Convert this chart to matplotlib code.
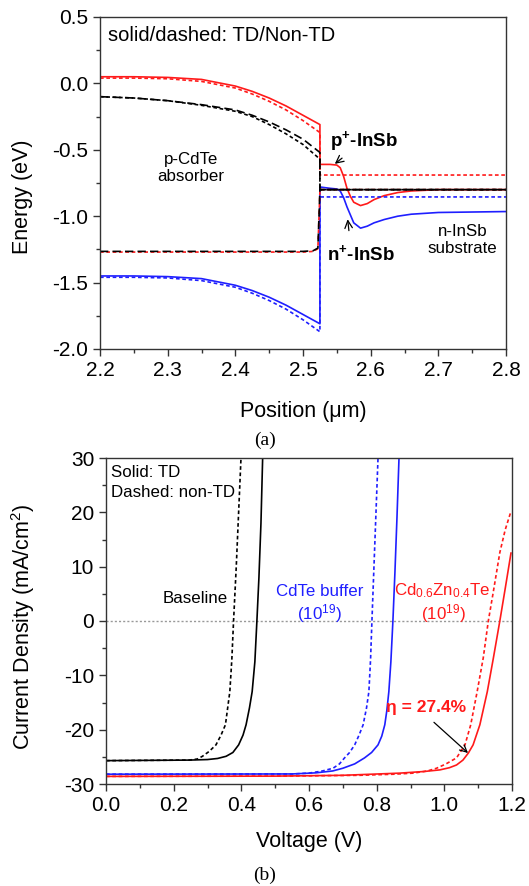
import matplotlib
matplotlib.use("Agg")
import matplotlib.pyplot as plt
from matplotlib.ticker import MultipleLocator

plt.rcParams['font.family'] = ['Liberation Sans', 'DejaVu Sans']
plt.rcParams['mathtext.fontset'] = 'custom'
plt.rcParams['mathtext.rm'] = 'Liberation Sans'
plt.rcParams['mathtext.it'] = 'Liberation Sans:italic'
plt.rcParams['mathtext.bf'] = 'Liberation Sans:bold'
plt.rcParams['axes.unicode_minus'] = False

# ---- (a) band diagram data ----
pos_cdte = [2.2, 2.25, 2.3, 2.35, 2.4, 2.425, 2.45, 2.475, 2.5, 2.525]
ec_td_cdte = [0.05, 0.05, 0.045, 0.03, -0.02, -0.06, -0.11, -0.17, -0.24, -0.31]
ec_ntd_cdte = [0.04, 0.04, 0.035, 0.015, -0.035, -0.08, -0.135, -0.20, -0.28, -0.37]
ev_td_cdte = [-1.45, -1.45, -1.455, -1.47, -1.52, -1.56, -1.61, -1.67, -1.74, -1.81]
ev_ntd_cdte = [-1.46, -1.46, -1.465, -1.485, -1.535, -1.58, -1.635, -1.70, -1.78, -1.87]
efn_td_cdte = [-0.10, -0.11, -0.13, -0.16, -0.20, -0.24, -0.29, -0.35, -0.42, -0.52]
efn_ntd_cdte = [-0.10, -0.11, -0.13, -0.165, -0.21, -0.25, -0.31, -0.38, -0.46, -0.57]
pos_efp = [2.2, 2.5, 2.515, 2.522, 2.525]
efp_td_cdte = [-1.265, -1.265, -1.26, -1.24, -0.80]
efp_ntd_cdte = [-1.27, -1.27, -1.265, -1.245, -0.81]

pos_insb = [2.525, 2.54, 2.55, 2.555, 2.56, 2.565, 2.57, 2.575, 2.585, 2.595,
            2.605, 2.62, 2.64, 2.66, 2.7, 2.8]
ec_td_insb = [-0.61, -0.61, -0.615, -0.635, -0.70, -0.79, -0.85, -0.895, -0.92, -0.905,
              -0.875, -0.845, -0.822, -0.81, -0.80, -0.80]
ev_td_insb = [-0.78, -0.79, -0.795, -0.81, -0.86, -0.93, -0.99, -1.05, -1.09, -1.075,
              -1.05, -1.025, -1.0, -0.985, -0.972, -0.965]
pos_flat = [2.525, 2.8]
ec_ntd_insb = [-0.69, -0.69]
ev_ntd_insb = [-0.855, -0.855]
ef_insb = [-0.80, -0.80]

# ---- (b) J-V data ----
base_td_v = [0, 0.246, 0.30, 0.33, 0.355, 0.375, 0.392, 0.405, 0.414, 0.424, 0.432, 0.440, 0.446, 0.452, 0.458, 0.463]
base_td_j = [-25.7, -25.6, -25.5, -25.3, -24.9, -24.2, -22.8, -21.0, -19.1, -16.0, -13.0, -7.5, 0, 8, 18, 30]
base_ntd_v = [0, 0.246, 0.27, 0.285, 0.305, 0.325, 0.340, 0.353, 0.366, 0.372, 0.377, 0.385, 0.392, 0.399]
base_ntd_j = [-25.7, -25.6, -25.4, -24.9, -24.0, -22.8, -21.0, -19.1, -13.0, -7.0, 0, 10, 20, 30]
buf_td_v = [0, 0.55, 0.62, 0.67, 0.70, 0.735, 0.764, 0.785, 0.804, 0.815, 0.824, 0.830, 0.836, 0.842, 0.848, 0.854, 0.860, 0.866]
buf_td_j = [-28.2, -28.15, -27.95, -27.6, -27.1, -26.3, -25.2, -24.2, -22.8, -21.2, -19.1, -16.5, -13.0, -7.5, 0, 9, 19, 30]
buf_ntd_v = [0, 0.55, 0.60, 0.64, 0.671, 0.69, 0.705, 0.72, 0.735, 0.748, 0.760, 0.770, 0.777, 0.782, 0.786, 0.792, 0.798, 0.804]
buf_ntd_j = [-28.2, -28.15, -28.0, -27.6, -27.1, -26.3, -25.2, -24.2, -22.8, -21.0, -19.1, -16.0, -13.0, -7.0, 0, 10, 20, 30]
czt_td_v = [0, 0.5, 0.7, 0.868, 0.94, 0.987, 1.015, 1.036, 1.055, 1.071, 1.085, 1.105, 1.127, 1.145, 1.164, 1.18, 1.197]
czt_td_j = [-28.6, -28.55, -28.4, -28.0, -27.7, -27.4, -27.0, -26.5, -25.6, -24.3, -22.8, -19.1, -13.0, -6.8, 0, 6, 12.5]
czt_ntd_v = [0, 0.5, 0.75, 0.85, 0.908, 0.95, 0.977, 1.005, 1.036, 1.061, 1.078, 1.097, 1.115, 1.130, 1.145, 1.164, 1.18, 1.197]
czt_ntd_j = [-28.6, -28.55, -28.4, -28.2, -28.0, -27.6, -27.1, -26.3, -25.2, -22.8, -19.1, -13.0, -6.8, 0, 5.45, 12.6, 16.8, 20.2]

RED = '#ff1a1a'
BLUE = '#1f1fff'
short = (0, (2.2, 1.6))
longd = (0, (5, 2.5))
lw = 1.2

fig = plt.figure(figsize=(5.29, 8.86), dpi=100)
ax1 = fig.add_axes([100/529, 1-349/886, 406/529, 332/886])
ax2 = fig.add_axes([106/529, 1-784/886, 406/529, 326/886])

def style(ax):
    for s in ax.spines.values():
        s.set_color('#333333')
        s.set_linewidth(1.0)
    ax.tick_params(which='both', direction='out', labelsize=15, colors='#333333',
                   labelcolor='black', width=1.0)
    ax.tick_params(which='major', length=5)
    ax.tick_params(which='minor', length=3)

# (a)
ax1.plot(pos_cdte + pos_insb, ec_td_cdte + ec_td_insb, color=RED, lw=lw)
ax1.plot(pos_cdte + pos_flat, ec_ntd_cdte + ec_ntd_insb, color=RED, lw=lw, ls=short)
ax1.plot(pos_cdte + pos_insb, ev_td_cdte + ev_td_insb, color=BLUE, lw=lw)
ax1.plot(pos_cdte + pos_flat, ev_ntd_cdte + ev_ntd_insb, color=BLUE, lw=lw, ls=short)
ax1.plot(pos_efp + pos_flat, efp_ntd_cdte + ef_insb, color=RED, lw=lw, ls=short)
ax1.plot(pos_efp + pos_flat, efp_td_cdte + ef_insb, color='black', lw=lw, ls=longd)
ax1.plot(pos_cdte + pos_flat, efn_td_cdte + ef_insb, color='black', lw=lw, ls=longd)
ax1.plot(pos_cdte + pos_flat, efn_ntd_cdte + ef_insb, color='black', lw=lw, ls=short)

ax1.set_xlim(2.2, 2.8)
ax1.set_ylim(-2.0, 0.5)
ax1.xaxis.set_major_locator(MultipleLocator(0.1))
ax1.xaxis.set_minor_locator(MultipleLocator(0.05))
ax1.yaxis.set_major_locator(MultipleLocator(0.5))
ax1.yaxis.set_minor_locator(MultipleLocator(0.25))
style(ax1)
ax1.set_xlabel('Position (\u03bcm)', fontsize=15.5)
ax1.set_ylabel('Energy (eV)', fontsize=15.5)
ax1.xaxis.set_label_coords(0.5, -0.158)
ax1.yaxis.set_label_coords(-0.165, 0.458)

ax1.text(2.212, 0.364, 'solid/dashed: TD/Non-TD', fontsize=14.5, ha='left', va='center')
ax1.text(2.334, -0.636, 'p-CdTe\nabsorber', fontsize=12.2, ha='center', va='center', linespacing=1.15)
ax1.text(2.736, -1.18, 'n-InSb\nsubstrate', fontsize=12.2, ha='center', va='center', linespacing=1.15)
ax1.annotate(r'p$^{\mathbf{+}}$-InSb', xy=(2.547, -0.606), xytext=(2.540, -0.432),
             fontsize=13.5, fontweight='bold', ha='left', va='center',
             arrowprops=dict(arrowstyle='->', color='black', lw=0.9, shrinkA=3, shrinkB=0))
ax1.annotate(r'n$^{\mathbf{+}}$-InSb', xy=(2.566, -1.023), xytext=(2.535, -1.288),
             fontsize=13.5, fontweight='bold', ha='left', va='center',
             arrowprops=dict(arrowstyle='->', color='black', lw=0.9, shrinkA=8, shrinkB=0,
                             relpos=(0.35, 1.0)))

fig.text(265/529, 1-440/886, '(a)', fontsize=14, family='Liberation Serif', ha='center', va='center')

# (b)
ax2.axhline(0, color='#999999', lw=1.0, ls=(0, (1.5, 1.5)))
ax2.plot(base_ntd_v, base_ntd_j, color='black', lw=lw, ls=short)
ax2.plot(base_td_v, base_td_j, color='black', lw=lw)
ax2.plot(buf_ntd_v, buf_ntd_j, color=BLUE, lw=lw, ls=short)
ax2.plot(buf_td_v, buf_td_j, color=BLUE, lw=lw)
ax2.plot(czt_ntd_v, czt_ntd_j, color=RED, lw=lw, ls=short)
ax2.plot(czt_td_v, czt_td_j, color=RED, lw=lw)

ax2.set_xlim(0, 1.2)
ax2.set_ylim(-30, 30)
ax2.xaxis.set_major_locator(MultipleLocator(0.2))
ax2.xaxis.set_minor_locator(MultipleLocator(0.1))
ax2.yaxis.set_major_locator(MultipleLocator(10))
ax2.yaxis.set_minor_locator(MultipleLocator(5))
style(ax2)
ax2.set_xlabel('Voltage (V)', fontsize=15.5)
ax2.set_ylabel('Current Density (mA/cm$^2$)', fontsize=15.5)
ax2.xaxis.set_label_coords(0.5, -0.143)
ax2.yaxis.set_label_coords(-0.170, 0.482)

ax2.text(0.015, 27.4, 'Solid: TD', fontsize=12.2, ha='left', va='center')
ax2.text(0.015, 23.6, 'Dashed: non-TD', fontsize=12.2, ha='left', va='center')
ax2.text(0.264, 4.2, 'Baseline', fontsize=12.2, ha='center', va='center')
ax2.text(0.631, 5.5, 'CdTe buffer', fontsize=12.2, ha='center', va='center', color=BLUE)
ax2.text(0.631, 1.45, '(10$^{19}$)', fontsize=12.2, ha='center', va='center', color=BLUE)
ax2.text(0.993, 5.5, 'Cd$_{0.6}$Zn$_{0.4}$Te', fontsize=12.2, ha='center', va='center', color=RED)
ax2.text(0.996, 1.45, '(10$^{19}$)', fontsize=12.2, ha='center', va='center', color=RED)
ax2.annotate('\u03b7 = 27.4%', xy=(1.070, -24.3), xytext=(0.945, -15.9),
             fontsize=12.5, fontweight='bold', color=RED, ha='center', va='center',
             arrowprops=dict(arrowstyle='->', color='black', lw=0.9, shrinkA=5, shrinkB=0,
                             relpos=(0.5, 0.0)))

fig.text(265/529, 1-875/886, '(b)', fontsize=14, family='Liberation Serif', ha='center', va='center')

fig.savefig('out.png', dpi=100)
